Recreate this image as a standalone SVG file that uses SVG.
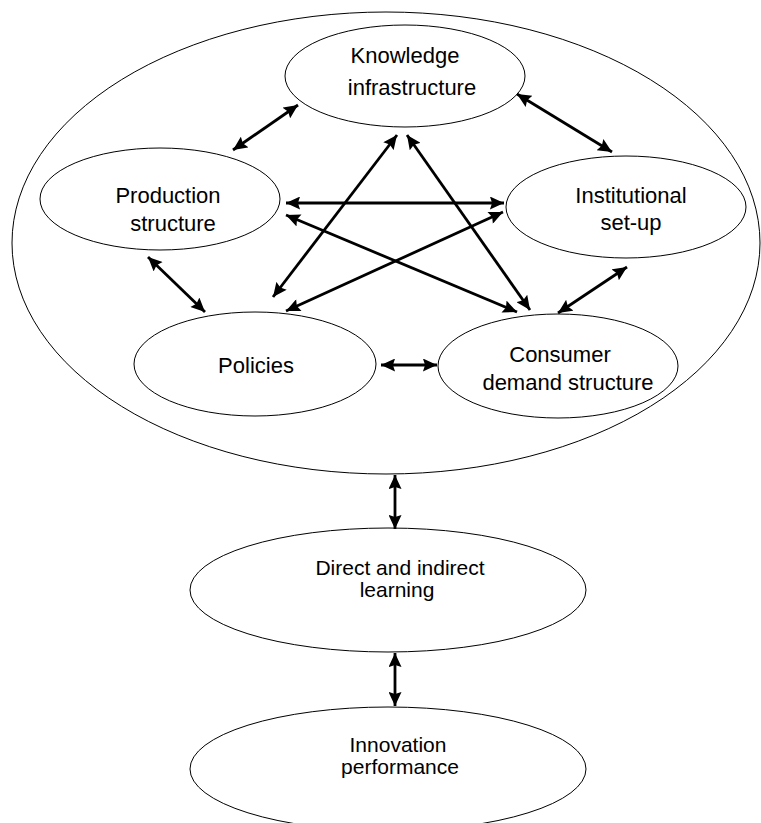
<svg xmlns="http://www.w3.org/2000/svg" width="761" height="823" viewBox="0 0 761 823">
<style>
.n ellipse{fill:#fff;stroke:#000;stroke-width:1}
.n text{font-family:"Liberation Sans",Arial,sans-serif;font-size:22px;fill:#000;text-anchor:middle}
.n text.s{font-size:21px}
.c line{stroke:#000;stroke-width:2.8;marker-start:url(#ah);marker-end:url(#ah)}
</style>
<defs>
<marker id="ah" markerUnits="userSpaceOnUse" markerWidth="15" markerHeight="13" refX="13" refY="6" orient="auto-start-reverse" viewBox="0 0 13 12">
<path d="M0,0 L13,6 L0,12 L2,6 z" fill="#000"/>
</marker>
</defs>
<rect width="761" height="823" fill="#fff"/>
<g id="system" class="n"><ellipse cx="386" cy="243" rx="374" ry="231"/></g>
<g id="knowledge" class="n"><ellipse cx="405" cy="76" rx="120" ry="51"/><text x="405" y="63">Knowledge</text><text x="412" y="95">infrastructure</text></g>
<g id="production" class="n"><ellipse cx="160" cy="199" rx="120" ry="51"/><text x="168" y="203">Production</text><text x="173" y="231">structure</text></g>
<g id="institutional" class="n"><ellipse cx="626" cy="207" rx="120" ry="51"/><text x="631" y="203">Institutional</text><text x="631" y="230">set-up</text></g>
<g id="policies" class="n"><ellipse cx="255" cy="364" rx="121" ry="52"/><text x="256" y="373">Policies</text></g>
<g id="consumer" class="n"><ellipse cx="558" cy="366" rx="120" ry="52"/><text x="560" y="362">Consumer</text><text x="568" y="390">demand structure</text></g>
<g id="learning" class="n"><ellipse cx="388" cy="590" rx="198" ry="62"/><text class="s" x="400" y="575">Direct and indirect</text><text class="s" x="397" y="597">learning</text></g>
<g id="innovation" class="n"><ellipse cx="388" cy="769" rx="198" ry="62"/><text class="s" x="398" y="752">Innovation</text><text class="s" x="400" y="774">performance</text></g>
<g id="connectors" class="c">
<line x1="298" y1="105" x2="233" y2="150"/>
<line x1="517" y1="94" x2="612" y2="152"/>
<line x1="286" y1="203" x2="504" y2="203"/>
<line x1="286" y1="215" x2="517" y2="312"/>
<line x1="503" y1="212" x2="286" y2="311"/>
<line x1="397" y1="135" x2="273" y2="297"/>
<line x1="407" y1="135" x2="530" y2="310"/>
<line x1="148" y1="257" x2="205" y2="312"/>
<line x1="627" y1="267" x2="558" y2="313"/>
<line x1="381" y1="365" x2="437" y2="365"/>
<line x1="395" y1="475" x2="395" y2="529"/>
<line x1="395" y1="653" x2="395" y2="706"/>
</g>
</svg>
